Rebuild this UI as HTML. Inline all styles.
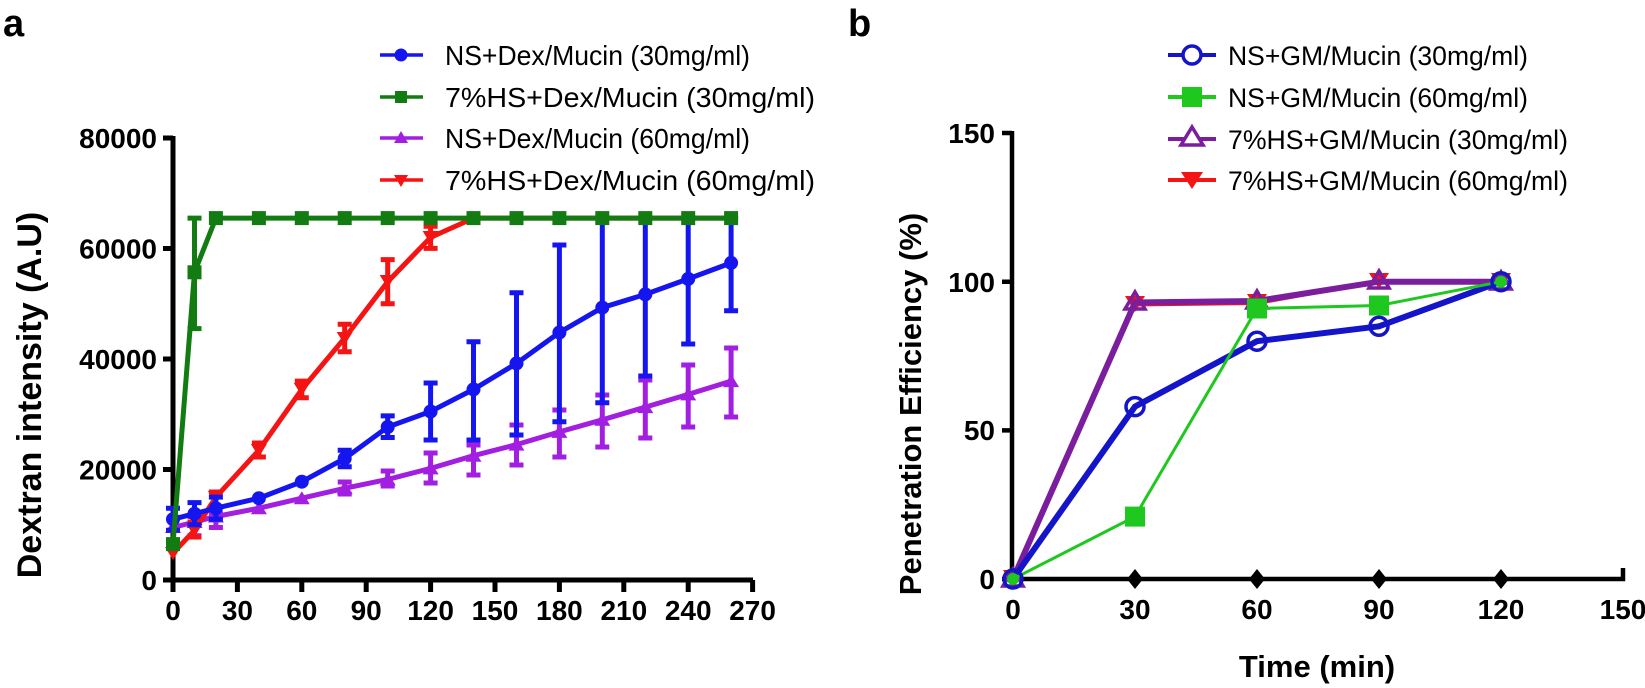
<!DOCTYPE html>
<html><head><meta charset="utf-8"><style>
html,body{margin:0;padding:0;background:#fff}
svg{display:block}
text{font-family:"Liberation Sans",Arial,sans-serif}
</style></head><body>
<svg width="1645" height="688" viewBox="0 0 1645 688" xmlns="http://www.w3.org/2000/svg">
<text x="3" y="36" font-size="38" font-weight="bold">a</text>
<text x="848" y="36" font-size="38" font-weight="bold">b</text>

<!-- ===== Panel a ===== -->
<g stroke="#000" stroke-width="5" fill="none">
<path d="M173,136 V580 H753"/>
<path d="M163,138 H173 M163,248.5 H173 M163,359 H173 M163,469.5 H173 M163,580 H173"/>
<path d="M173,580 V592 M237.4,580 V592 M301.8,580 V592 M366.2,580 V592 M430.6,580 V592 M495,580 V592 M559.4,580 V592 M623.8,580 V592 M688.2,580 V592 M752.6,580 V592"/>
</g>
<g font-size="28" font-weight="bold" text-anchor="end">
<text x="157" y="148">80000</text>
<text x="157" y="258.5">60000</text>
<text x="157" y="369">40000</text>
<text x="157" y="479.5">20000</text>
<text x="157" y="590">0</text>
</g>
<g font-size="28" font-weight="bold" text-anchor="middle">
<text x="173" y="620">0</text><text x="237.4" y="620">30</text><text x="301.8" y="620">60</text><text x="366.2" y="620">90</text><text x="430.6" y="620">120</text><text x="495" y="620">150</text><text x="559.4" y="620">180</text><text x="623.8" y="620">210</text><text x="688.2" y="620">240</text><text x="752.6" y="620">270</text>
</g>
<text transform="translate(41,395) rotate(-90)" font-size="34" font-weight="bold" text-anchor="middle">Dextran intensity (A.U)</text>

<g stroke="#a21ee0" stroke-width="5" fill="none">
<path d="M173,527.5 L194.5,522 L215.9,516.5 L258.9,508.2 L301.8,498.2 L344.7,488.3 L387.7,479.4 L430.6,468.4 L473.5,455.7 L516.5,444.6 L559.4,431.9 L602.3,419.8 L645.3,407.1 L688.2,394.4 L731.1,381.1"/>
<path d="M194.5,535.8 V516.5 M215.9,527.5 V513.7 M344.7,494 V482 M387.7,486 V471 M430.6,483 V453 M473.5,475 V445 M516.5,465 V425 M559.4,457 V410 M602.3,447 V395 M645.3,438 V380 M688.2,427 V365 M731.1,417 V348"/>
<path d="M187.5,535.8 h14 M187.5,516.5 h14 M208.9,527.5 h14 M208.9,513.7 h14 M337.7,494 h14 M337.7,482 h14 M380.7,486 h14 M380.7,471 h14 M423.6,483 h14 M423.6,453 h14 M466.5,475 h14 M466.5,445 h14 M509.5,465 h14 M509.5,425 h14 M552.4,457 h14 M552.4,410 h14 M595.3,447 h14 M595.3,395 h14 M638.3,438 h14 M638.3,380 h14 M681.2,427 h14 M681.2,365 h14 M724.1,417 h14 M724.1,348 h14"/>
</g>
<g fill="#a21ee0">
<path d="M173,520 l8,13 h-16z M194.5,515 l8,13 h-16z M215.9,509.5 l8,13 h-16z M258.9,501.2 l8,13 h-16z M301.8,491.2 l8,13 h-16z M344.7,481.3 l8,13 h-16z M387.7,472.4 l8,13 h-16z M430.6,461.4 l8,13 h-16z M473.5,448.7 l8,13 h-16z M516.5,437.6 l8,13 h-16z M559.4,424.9 l8,13 h-16z M602.3,412.8 l8,13 h-16z M645.3,400.1 l8,13 h-16z M688.2,387.4 l8,13 h-16z M731.1,374.1 l8,13 h-16z"/>
</g>

<g stroke="#f41414" stroke-width="5" fill="none">
<path d="M173,553 L194.5,530.3 L215.9,497.1 L258.9,450.2 L301.8,389.4 L344.7,338 L387.7,281.7 L430.6,237.4 L473.5,218.1 L731,218.1"/>
<path d="M194.5,537 V522 M258.9,457 V443 M301.8,397.7 V381.1 M344.7,351.8 V324.2 M387.7,303.8 V259.6 M430.6,248.4 V226.3"/>
<path d="M187.5,537 h14 M187.5,522 h14 M251.9,457 h14 M251.9,443 h14 M294.8,397.7 h14 M294.8,381.1 h14 M337.7,351.8 h14 M337.7,324.2 h14 M380.7,303.8 h14 M380.7,259.6 h14 M423.6,248.4 h14 M423.6,226.3 h14 M208.9,492 h14"/>
</g>
<g fill="#f41414">
<path d="M165,547 h16 l-8,13z M186.5,524 h16 l-8,13z M207.9,491 h16 l-8,13z M250.9,444 h16 l-8,13z M293.8,383 h16 l-8,13z M336.7,332 h16 l-8,13z M379.7,275 h16 l-8,13z M422.6,231 h16 l-8,13z"/>
</g>

<g stroke="#1515f0" stroke-width="5" fill="none">
<path d="M173,519.2 L194.5,513.7 L215.9,508.2 L258.9,498.2 L301.8,481.7 L344.7,458.5 L387.7,427 L430.6,411.5 L473.5,389.4 L516.5,363.4 L559.4,332.5 L602.3,307.6 L645.3,294.4 L688.2,278.9 L731.1,262.9"/>
<path d="M173,530.3 V508.2 M194.5,524.8 V502.6 M215.9,519.2 V497.1 M344.7,466.7 V450.2 M387.7,437.5 V415.9 M430.6,440 V383 M473.5,440 V341.7 M516.5,435 V292.7 M559.4,421.7 V245 M602.3,402.7 V218.1 M645.3,376 V218.1 M688.2,344 V218.1 M731.1,310.7 V218.1"/>
<path d="M166,530.3 h14 M166,508.2 h14 M187.5,524.8 h14 M187.5,502.6 h14 M208.9,519.2 h14 M208.9,497.1 h14 M337.7,466.7 h14 M337.7,450.2 h14 M380.7,437.5 h14 M380.7,415.9 h14 M423.6,440 h14 M423.6,383 h14 M466.5,440 h14 M466.5,341.7 h14 M509.5,435 h14 M509.5,292.7 h14 M552.4,421.7 h14 M552.4,245 h14 M595.3,402.7 h14 M595.3,218.1 h14 M638.3,376 h14 M638.3,218.1 h14 M681.2,344 h14 M681.2,218.1 h14 M724.1,310.7 h14 M724.1,218.1 h14"/>
</g>
<g fill="#1515f0">
<circle cx="173" cy="519.2" r="7"/><circle cx="194.5" cy="513.7" r="7"/><circle cx="215.9" cy="508.2" r="7"/><circle cx="258.9" cy="498.2" r="7"/><circle cx="301.8" cy="481.7" r="7"/><circle cx="344.7" cy="458.5" r="7"/><circle cx="387.7" cy="427" r="7"/><circle cx="430.6" cy="411.5" r="7"/><circle cx="473.5" cy="389.4" r="7"/><circle cx="516.5" cy="363.4" r="7"/><circle cx="559.4" cy="332.5" r="7"/><circle cx="602.3" cy="307.6" r="7"/><circle cx="645.3" cy="294.4" r="7"/><circle cx="688.2" cy="278.9" r="7"/><circle cx="731.1" cy="262.9" r="7"/>
</g>

<g stroke="#127c12" stroke-width="5" fill="none">
<path d="M173,544.1 L194.5,272.3 L215.9,218.1 L731.1,218.1"/>
<path d="M194.5,328.6 V218.1 M187.5,328.6 h14 M187.5,218.1 h14"/>
</g>
<g fill="#127c12">
<rect x="166" y="537.1" width="14" height="14"/><rect x="187.5" y="265.3" width="14" height="14"/><rect x="208.9" y="211.1" width="14" height="14"/><rect x="251.9" y="211.1" width="14" height="14"/><rect x="294.8" y="211.1" width="14" height="14"/><rect x="337.7" y="211.1" width="14" height="14"/><rect x="380.7" y="211.1" width="14" height="14"/><rect x="423.6" y="211.1" width="14" height="14"/><rect x="466.5" y="211.1" width="14" height="14"/><rect x="509.5" y="211.1" width="14" height="14"/><rect x="552.4" y="211.1" width="14" height="14"/><rect x="595.3" y="211.1" width="14" height="14"/><rect x="638.3" y="211.1" width="14" height="14"/><rect x="681.2" y="211.1" width="14" height="14"/><rect x="724.1" y="211.1" width="14" height="14"/>
</g>

<g stroke-width="3.5">
<path d="M380,55 H423" stroke="#1515f0"/><circle cx="401" cy="55" r="6.5" fill="#1515f0"/>
<path d="M380,97 H423" stroke="#127c12"/><rect x="395" y="91" width="12" height="12" fill="#127c12"/>
<path d="M380,138 H423" stroke="#a21ee0"/><path d="M401,131 l7,12 h-14z" fill="#a21ee0"/>
<path d="M380,180 H423" stroke="#f41414"/><path d="M394,175 h14 l-7,12z" fill="#f41414"/>
</g>
<g font-size="28">
<text x="445" y="65" textLength="305" lengthAdjust="spacingAndGlyphs">NS+Dex/Mucin (30mg/ml)</text>
<text x="445" y="107" textLength="370" lengthAdjust="spacingAndGlyphs">7%HS+Dex/Mucin (30mg/ml)</text>
<text x="445" y="148" textLength="305" lengthAdjust="spacingAndGlyphs">NS+Dex/Mucin (60mg/ml)</text>
<text x="445" y="190" textLength="370" lengthAdjust="spacingAndGlyphs">7%HS+Dex/Mucin (60mg/ml)</text>
</g>

<!-- ===== Panel b ===== -->
<g stroke="#000" stroke-width="4.5" fill="none">
<path d="M1012,131 V579 H1623 V568"/>
<path d="M1002,133 H1012 M1002,281.7 H1012 M1002,430.4 H1012 M1002,579 H1012"/>
</g>
<g fill="#000">
<path d="M1135,569 l8,10 -8,10 -8,-10z M1257,569 l8,10 -8,10 -8,-10z M1379,569 l8,10 -8,10 -8,-10z M1501,569 l8,10 -8,10 -8,-10z"/>
</g>
<g font-size="28" font-weight="bold" text-anchor="end">
<text x="995" y="143">150</text>
<text x="995" y="292">100</text>
<text x="995" y="440">50</text>
<text x="995" y="589">0</text>
</g>
<g font-size="28" font-weight="bold" text-anchor="middle">
<text x="1013" y="619">0</text><text x="1135" y="619">30</text><text x="1257" y="619">60</text><text x="1379" y="619">90</text><text x="1501" y="619">120</text><text x="1623" y="619">150</text>
</g>
<text x="1317" y="677" font-size="31" font-weight="bold" text-anchor="middle">Time (min)</text>
<text transform="translate(921,404) rotate(-90)" font-size="31" font-weight="bold" text-anchor="middle">Penetration Efficiency (%)</text>

<path d="M1013,579 L1135,305 L1257,303.5 L1379,281.7 L1501,281.7" stroke="#f41414" stroke-width="3" fill="none"/>
<g fill="#f41414"><path d="M1003,570 h20 l-10,16z M1125,296 h20 l-10,16z M1247,294 h20 l-10,16z M1369,273 h20 l-10,16z M1491,273 h20 l-10,16z"/></g>
<path d="M1013,579 L1135,302.5 L1257,301 L1379,281.7 L1501,281.7" stroke="#7a1e9e" stroke-width="6" fill="none"/>
<g fill="none" stroke="#7a1e9e" stroke-width="3.5"><path d="M1013,569 l10,17 h-20z M1135,292 l10,17 h-20z M1257,291 l10,17 h-20z M1379,271 l10,17 h-20z M1501,272 l10,17 h-20z"/></g>
<path d="M1013,579 L1135,406.6 L1257,341.2 L1379,326.3 L1501,281.7" stroke="#1414c8" stroke-width="6" fill="none"/>
<path d="M1013,579 L1135,516.6 L1257,308.5 L1379,305.5 L1501,281.7" stroke="#1ec81e" stroke-width="3" fill="none"/>
<g fill="#1ec81e"><rect x="1125" y="506.6" width="20" height="20"/><rect x="1247" y="298.5" width="20" height="20"/><rect x="1369" y="295.5" width="20" height="20"/><circle cx="1013" cy="579" r="6"/><circle cx="1501" cy="281.7" r="6"/></g>
<g fill="none" stroke="#1414c8" stroke-width="3.5"><circle cx="1013" cy="579" r="9"/><circle cx="1135" cy="406.6" r="9"/><circle cx="1257" cy="341.2" r="9"/><circle cx="1379" cy="326.3" r="9"/><circle cx="1501" cy="281.7" r="9"/></g>

<path d="M1168,55 H1216" stroke="#1414c8" stroke-width="4"/><circle cx="1192" cy="55" r="9" fill="#fff" stroke="#1414c8" stroke-width="3.5"/>
<path d="M1168,97 H1216" stroke="#1ec81e" stroke-width="4"/><rect x="1182" y="87" width="20" height="20" fill="#1ec81e"/>
<path d="M1168,139 H1216" stroke="#7a1e9e" stroke-width="4"/><path d="M1192,127 l11,18 h-22z" fill="#fff" stroke="#7a1e9e" stroke-width="3.5"/>
<path d="M1168,180 H1216" stroke="#f41414" stroke-width="4"/><path d="M1181,172 h22 l-11,17z" fill="#f41414"/>
<g font-size="27">
<text x="1228" y="65" textLength="300" lengthAdjust="spacingAndGlyphs">NS+GM/Mucin (30mg/ml)</text>
<text x="1228" y="107" textLength="300" lengthAdjust="spacingAndGlyphs">NS+GM/Mucin (60mg/ml)</text>
<text x="1228" y="149" textLength="340" lengthAdjust="spacingAndGlyphs">7%HS+GM/Mucin (30mg/ml)</text>
<text x="1228" y="190" textLength="340" lengthAdjust="spacingAndGlyphs">7%HS+GM/Mucin (60mg/ml)</text>
</g>
</svg>
</body></html>
